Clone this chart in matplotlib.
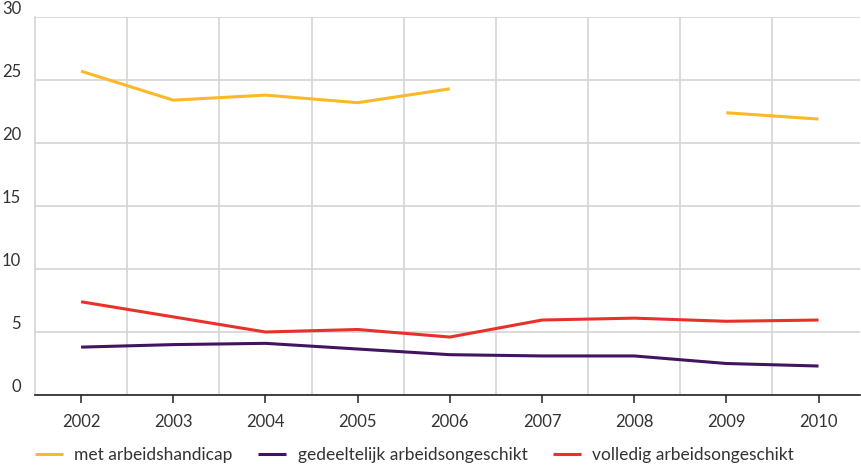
import matplotlib
matplotlib.use("Agg")
import matplotlib.pyplot as plt
import numpy as np

years = [2002, 2003, 2004, 2005, 2006, 2007, 2008, 2009, 2010]
met_arbeidshandicap = [25.7, 23.4, 23.8, 23.2, 24.3, np.nan, np.nan, 22.4, 21.9]
gedeeltelijk = [3.8, 4.0, 4.1, 3.65, 3.2, 3.1, 3.1, 2.5, 2.3]
volledig = [7.4, 6.2, 5.0, 5.2, 4.6, 5.95, 6.1, 5.85, 5.95]
labels = ["met arbeidshandicap", "gedeeltelijk arbeidsongeschikt", "volledig arbeidsongeschikt"]
colors = ["#FBB829", "#42145F", "#E8312A"]
yticks = [0, 5, 10, 15, 20, 25, 30]

plt.rcParams['font.family'] = ['Lato', 'DejaVu Sans']

fig = plt.figure(figsize=(8.62, 4.66), dpi=100)
ax = fig.add_axes([35/862, 71/466, 825/862, 378/466])

for vals, c, lab in zip([met_arbeidshandicap, gedeeltelijk, volledig], colors, labels):
    ax.plot(years, vals, color=c, lw=2.2, label=lab, solid_capstyle='butt')

ax.set_xlim(2001.5, 2010.45)
ax.set_ylim(0, 30)
ax.set_yticks(yticks)
ax.set_xticks(years)
ax.set_xticks(np.arange(2002.5, 2010, 1.0), minor=True)
ax.grid(True, which='major', axis='y', color='#d4d4d4', lw=1.2)
ax.grid(True, which='minor', axis='x', color='#d4d4d4', lw=1.2)
ax.set_axisbelow(True)
for s in ['top', 'right']:
    ax.spines[s].set_visible(False)
ax.spines['left'].set_color('#d4d4d4')
ax.spines['left'].set_linewidth(1.2)
ax.spines['bottom'].set_color('#222222')
ax.spines['bottom'].set_linewidth(1.2)
ax.tick_params(axis='y', length=0, pad=10, labelsize=12, labelcolor='#333333')
ax.tick_params(axis='x', which='major', length=6, width=1.1, color='#222222', pad=8, labelsize=12, labelcolor='#333333')
ax.tick_params(axis='x', which='minor', length=0)
for lab in ax.get_yticklabels():
    lab.set_verticalalignment('bottom')

leg = fig.legend(loc='center left', bbox_to_anchor=(35/862, 11/466), ncol=3, frameon=False,
                 fontsize=12.5, handlelength=1.6, handletextpad=0.65, columnspacing=1.5,
                 borderpad=0, borderaxespad=0, labelcolor='#333333')

fig.savefig("out.png", dpi=100)
